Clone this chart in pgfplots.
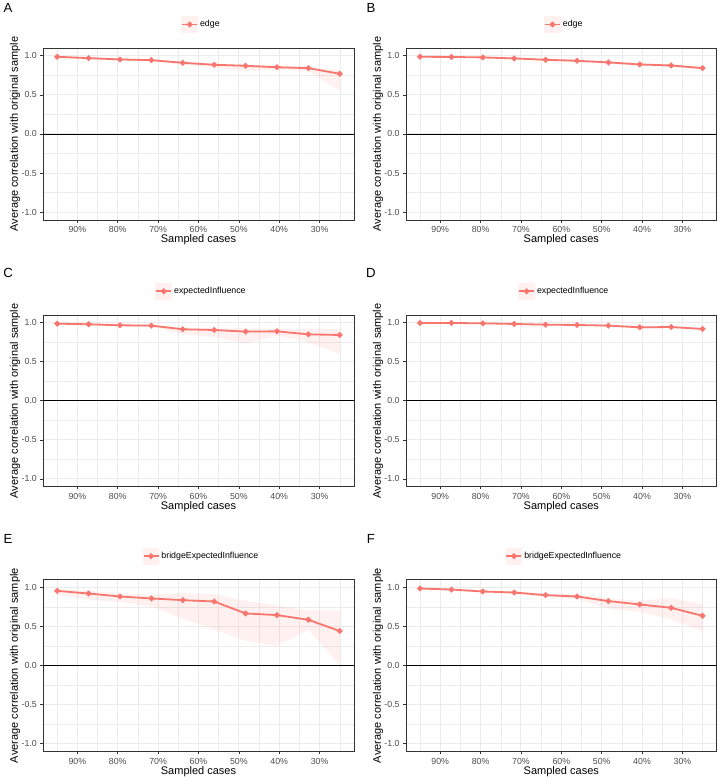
\documentclass[border=0pt]{standalone}
\usepackage{pgfplots}
\pgfplotsset{compat=1.18}
\usepackage{pgfplotstable}
\usepgfplotslibrary{fillbetween}
\usepackage{fontspec}
\setmainfont{Liberation Sans}
\definecolor{ggred}{HTML}{F8766D}
\definecolor{ggpink}{HTML}{FEF1F0}
\definecolor{gg92}{HTML}{EBEBEB}
\definecolor{gg30}{HTML}{4D4D4D}
\definecolor{gg20}{HTML}{333333}

\pgfplotstableread{
x m lo hi
95 0.987 0.975 0.995
87.22 0.970 0.955 0.982
79.44 0.953 0.935 0.967
71.67 0.944 0.925 0.957
63.89 0.910 0.885 0.925
56.11 0.885 0.850 0.900
48.33 0.872 0.805 0.890
40.56 0.853 0.825 0.872
32.78 0.842 0.800 0.862
25 0.769 0.553 0.815
}\tA
\pgfplotstableread{
x m lo hi
95 0.987 0.980 0.993
87.22 0.985 0.977 0.992
79.44 0.979 0.968 0.988
71.67 0.966 0.953 0.977
63.89 0.949 0.935 0.962
56.11 0.936 0.920 0.950
48.33 0.915 0.897 0.930
40.56 0.889 0.870 0.905
32.78 0.876 0.855 0.893
25 0.842 0.820 0.860
}\tB
\pgfplotstableread{
x m lo hi
95 0.987 0.980 0.993
87.22 0.979 0.970 0.987
79.44 0.966 0.955 0.976
71.67 0.962 0.944 0.972
63.89 0.915 0.850 0.930
56.11 0.906 0.816 0.928
48.33 0.885 0.731 0.925
40.56 0.889 0.835 0.916
32.78 0.850 0.748 0.920
25 0.842 0.600 0.920
}\tC
\pgfplotstableread{
x m lo hi
95 0.996 0.992 0.999
87.22 0.996 0.992 0.999
79.44 0.991 0.986 0.995
71.67 0.983 0.976 0.989
63.89 0.974 0.965 0.982
56.11 0.970 0.960 0.978
48.33 0.962 0.950 0.972
40.56 0.940 0.918 0.955
32.78 0.944 0.930 0.955
25 0.919 0.905 0.930
}\tD
\pgfplotstableread{
x m lo hi
95 0.957 0.906 0.980
87.22 0.923 0.843 0.957
79.44 0.885 0.813 0.928
71.67 0.860 0.757 0.906
63.89 0.838 0.600 0.928
56.11 0.821 0.460 0.915
48.33 0.668 0.320 0.830
40.56 0.647 0.250 0.770
32.78 0.587 0.460 0.706
25 0.443 0.010 0.706
}\tE
\pgfplotstableread{
x m lo hi
95 0.987 0.975 0.995
87.22 0.974 0.960 0.985
79.44 0.949 0.935 0.962
71.67 0.936 0.920 0.950
63.89 0.902 0.880 0.925
56.11 0.885 0.850 0.910
48.33 0.826 0.730 0.864
40.56 0.783 0.690 0.830
32.78 0.740 0.590 0.864
25 0.638 0.440 0.785
}\tF

\pgfplotsset{
  ggpanel/.style={
    scale only axis, width=311pt, height=172pt,
    xmin=21.5, xmax=98.5, x dir=reverse,
    ymin=-1.1, ymax=1.1,
    xtick={30,40,50,60,70,80,90},
    xticklabels={30\%,40\%,50\%,60\%,70\%,80\%,90\%},
    minor xtick={25,35,45,55,65,75,85,95},
    ytick={-1,-0.5,0,0.5,1},
    yticklabels={-1.0,-0.5,0.0,0.5,1.0},
    minor ytick={-0.75,-0.25,0.25,0.75},
    grid=both,
    major grid style={gg92, line width=0.9pt},
    minor grid style={gg92, line width=0.45pt},
    axis line style={gg20, line width=0.6pt},
    tick style={gg20, line width=0.6pt},
    major tick length=2.75pt, minor tick length=0pt,
    tick align=outside,
    xtick pos=bottom, ytick pos=left,
    tick label style={font=\fontsize{8.8}{10}\selectfont, text=gg30},
    xticklabel style={yshift=-0.5pt},
    xlabel={Sampled cases},
    ylabel={Average correlation with original sample},
    label style={font=\fontsize{11}{13}\selectfont, text=black},
    xlabel style={at={(axis description cs:0.5,-0.116)}, anchor=center},
    ylabel style={at={(axis description cs:-0.09,0.5)}, anchor=center},
    legend style={at={(axis description cs:0.5,1)}, anchor=center,
      xshift=3pt, yshift=23.5pt, draw=none, fill=none,
      font=\fontsize{8.8}{10}\selectfont},
    legend image code/.code={
      \fill[ggpink] (0pt,-7.5pt) rectangle (15pt,7.5pt);
      \draw[ggred, line width=1.8pt] (0pt,0pt) -- (15pt,0pt);
      \fill[ggred] (7.5pt,0pt) circle (1.9pt);
    },
  },
  ggline/.style={ggred, line width=1.8pt, mark=*, mark size=1.9pt, mark options={ggred, solid}},
}

\newcommand{\panel}[6]{%
  \begin{axis}[ggpanel, at={(#1,#2)}, anchor=north west]
    \addplot[name path=lo#6, draw=none, forget plot] table[x=x,y=lo]{#3};
    \addplot[name path=hi#6, draw=none, forget plot] table[x=x,y=hi]{#3};
    \addplot[fill=ggred, fill opacity=0.1, draw=none, forget plot] fill between[of=lo#6 and hi#6];
    \addplot[black, line width=0.8pt, forget plot] coordinates {(21.5,0) (98.5,0)};
    \addplot[ggline] table[x=x,y=m]{#3};
    \addlegendentry{#4}
  \end{axis}
}

\begin{document}
\begin{tikzpicture}[x=1pt,y=1pt]
  \path (0,0) rectangle (720,780);
  \panel{42pt}{732pt}{\tA}{edge}{A}{a}
  \panel{405pt}{732pt}{\tB}{edge}{B}{b}
  \panel{42pt}{465pt}{\tC}{expectedInfluence}{C}{c}
  \panel{405pt}{465pt}{\tD}{expectedInfluence}{D}{d}
  \panel{42pt}{200pt}{\tE}{bridgeExpectedInfluence}{E}{e}
  \panel{405pt}{200pt}{\tF}{bridgeExpectedInfluence}{F}{f}
  \begin{scope}[font=\fontsize{13.2}{15}\selectfont]
    \node at (7,772) {A};
    \node at (370,772) {B};
    \node at (7,507) {C};
    \node at (370,507) {D};
    \node at (7,241) {E};
    \node at (370,241) {F};
  \end{scope}
\end{tikzpicture}
\end{document}
